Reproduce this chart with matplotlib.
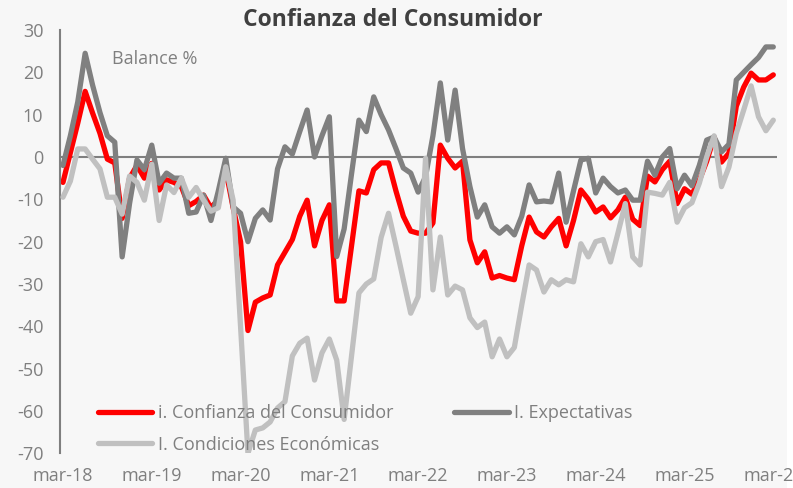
import matplotlib
matplotlib.use('Agg')
import matplotlib.pyplot as plt
from matplotlib.patches import Rectangle

plt.rcParams['font.family'] = ['Open Sans', 'DejaVu Sans']
plt.rcParams['axes.unicode_minus'] = False

# monthly values, mar-18 .. mar-26 (balance %)
confianza = [
    -6, 1, 8, 15.5, 10.4, 5.6, -0.5, -1.4, -14.5, -5, -2, -5,
    -1.5, -7.8, -5.4, -6, -7, -11.5, -10.5, -9, -12, -10, -3, -12,
    -20, -41, -34.3, -33.3, -32.6, -25.5, -22.5, -19.5, -14, -10.2, -21, -15,
    -11.3, -34, -34, -21, -8, -8.5, -3, -1.4, -1.4, -8, -14, -17.5,
    -18, -18, -15.6, 2.8, -0.3, -2.6, -1, -19.6, -25, -22.4, -28.6, -28,
    -28.6, -29, -21, -14.2, -17.7, -18.9, -16.5, -14.5, -21, -15, -7.8, -10,
    -13, -11.8, -14.4, -12.5, -9.5, -14.7, -16.2, -4.5, -5.9, -3, -1, -11,
    -7.5, -8.8, -5.5, -1, 4.7, -1.2, 0.9, 12, 16.5, 19.8, 18.2, 18.2,
    19.4,
]
expectativas = [
    -2, 5, 13, 24.5, 17, 10.5, 5, 3.5, -23.6, -11, -0.7, -3,
    2.8, -6.2, -3.8, -5, -5, -13.3, -13, -9, -15, -8, -0.3, -11.8,
    -13.3, -20, -14.5, -12.5, -14.9, -2.8, 2.4, 0.7, 6, 11.1, 0, 5,
    9.5, -23.5, -17, -4, 8.7, 6, 14.2, 10, 6.4, 2, -2.6, -3.8,
    -8.3, -4.7, 5, 17.5, 4, 15.8, 2, -7, -14.2, -11.3, -16.5, -18,
    -16.5, -18.4, -14, -6.6, -10.6, -10.4, -10.6, -3.8, -15.4, -8, -0.7, -0.3,
    -8.5, -5, -7, -8.5, -7.8, -10.2, -10.2, -1, -4.3, 0, 2, -7.5,
    -4.3, -6.8, -2, 4, 4.7, 1.2, 3, 18.2, 20, 21.8, 23.5, 26,
    26,
]
condiciones = [
    -9.5, -5.7, 1.9, 1.9, -0.5, -2.8, -9.5, -9.5, -13.5, -4.5, -6, -10.2,
    -1.7, -15, -6.6, -8.4, -5, -9.5, -7.2, -10.2, -12.8, -12, -2.3, -10.2,
    -40, -70, -64.5, -64, -62.6, -59.3, -57.8, -47, -44, -42.8, -52.7, -46.3,
    -43, -48, -62, -47, -32.1, -30, -28.8, -19, -13.3, -21, -29, -36.9,
    -33, -0.3, -31.4, -18.9, -32.6, -30.5, -31.4, -38, -40.3, -39, -47.2, -43,
    -47.2, -45, -35, -25.5, -26.7, -31.9, -29, -30.2, -29, -29.5, -20.5, -23.6,
    -20, -19.5, -24.8, -18, -11, -23.6, -25.5, -8.3, -8.6, -9, -6, -15.4,
    -12, -10.8, -6.2, 0, 5, -7, -2.4, 5.6, 11.1, 16.8, 9.5, 6.2,
    8.7,
]
tick_labels = ['mar-18', 'mar-19', 'mar-20', 'mar-21', 'mar-22',
               'mar-23', 'mar-24', 'mar-25', 'mar-26']
series_names = ['i. Confianza del Consumidor', 'I. Expectativas',
                'I. Condiciones Económicas']

W, H = 793, 488
fig = plt.figure(figsize=(W / 100, H / 100), dpi=100, facecolor='#f7f7f7')
# thin white strip on the right edge, as in the source image
fig.patches.append(Rectangle((787 / W, 0), 6 / W, 1, transform=fig.transFigure,
                             facecolor='white', edgecolor='none', zorder=-1))
ax = fig.add_axes([60 / W, 1 - 453.3 / H, (777 - 60) / W, (453.3 - 30) / H])
ax.set_facecolor('none')

x = list(range(len(confianza)))
line_kw = dict(lw=3.8, solid_joinstyle='round', solid_capstyle='round')

ax.axhline(0, color='#7f7f7f', lw=1.5, zorder=1)
lc, = ax.plot(x, confianza, color='#ff0000', zorder=2, label=series_names[0], **line_kw)
le, = ax.plot(x, expectativas, color='#808080', zorder=3, label=series_names[1], **line_kw)
lce, = ax.plot(x, condiciones, color='#c0c0c0', zorder=4, label=series_names[2], **line_kw)

ax.set_xlim(-0.4, 96.5)
ax.set_ylim(-70, 30)
ax.set_yticks(range(-70, 31, 10))
ax.set_xticks(range(0, len(confianza), 12))
ax.set_xticklabels(tick_labels)
ax.tick_params(axis='both', length=0, labelsize=13, labelcolor='#7f7f7f')
ax.tick_params(axis='y', pad=12)
ax.tick_params(axis='x', pad=10)
for side in ['top', 'right', 'bottom']:
    ax.spines[side].set_visible(False)
ax.spines['left'].set_color('#7f7f7f')
ax.spines['left'].set_linewidth(1.5)

leg = ax.legend(handles=[lc, lce, le], ncol=2, frameon=False,
                loc='upper left', bbox_to_anchor=(98 / W, 1 - 404 / H),
                bbox_transform=fig.transFigure, borderaxespad=0, borderpad=0,
                fontsize=13, handlelength=3.0, handletextpad=0.3,
                columnspacing=3.4, labelspacing=0.75)
for t in leg.get_texts():
    t.set_color('#7f7f7f')

fig.text(393 / W, 1 - 20 / H, 'Confianza del Consumidor', ha='center', va='center',
         fontsize=16.5, fontweight='bold', color='#404040')
fig.text(112 / W, 1 - 59 / H, 'Balance %', ha='left', va='center',
         fontsize=13, color='#7f7f7f')

fig.savefig('out.png', dpi=100, facecolor=fig.get_facecolor())
